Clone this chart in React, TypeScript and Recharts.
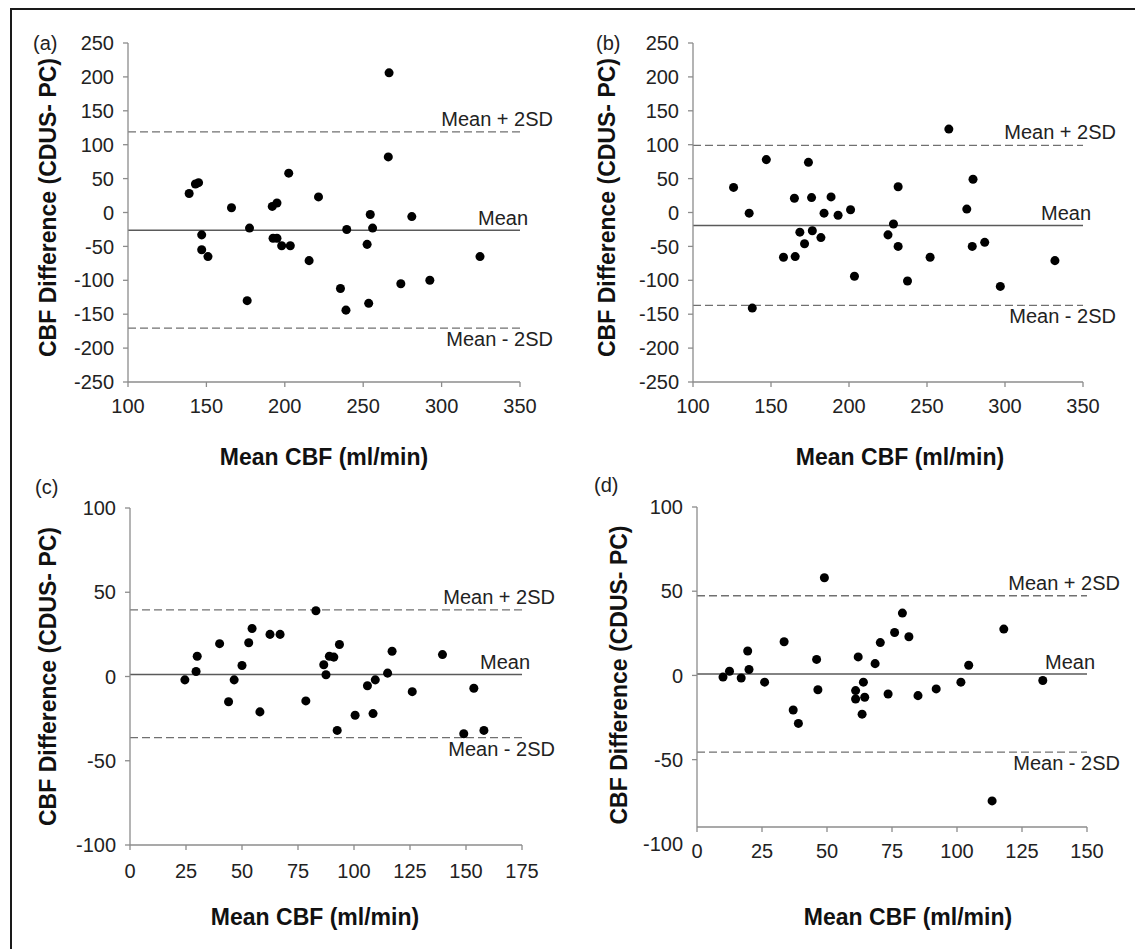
import React from "react";
import { ReferenceLine, Scatter, ScatterChart, XAxis, YAxis, ZAxis } from "recharts";

// (a) mean CBF vs difference
const aX = [139, 143, 145, 147, 147, 151, 166, 176, 177.5, 192, 195, 192.5, 195, 198, 203.5, 202.5, 215.5, 221.5, 235.5, 239, 239.5, 252.5, 253.5, 254.5, 256, 266.5, 266, 274, 281, 292.5, 324.5];
const aY = [28, 42, 44, -33, -55, -65, 7, -130, -23, 9, 14, -38, -38, -49, -49, 58, -71, 23, -112, -144, -25, -47, -134, -3, -23, 206, 82, -105, -6, -100, -65];
const aLines = [-26, 119, -170.5]; // mean, +2SD, -2SD

// (b)
const bX = [126, 136, 138, 147, 158, 165, 165.5, 168.5, 171.5, 174, 176, 176.5, 182, 184, 188.5, 193, 201, 203.5, 225, 228.5, 231.5, 231.5, 237.5, 252, 264, 275.5, 279.5, 279, 287, 297, 332];
const bY = [37, -1, -141, 78, -66, 21, -65, -29, -46, 74, 22, -27, -37, -1, 23, -4, 4, -94, -33, -17, 38, -50, -101, -66, 123, 5, 49, -50, -44, -109, -71];
const bLines = [-19, 99, -137];

// (c)
const cX = [24.5, 29.5, 30, 40, 44, 46.5, 50, 53, 54.5, 58, 62.5, 67, 78.5, 83, 86.5, 87.5, 89, 91, 93.5, 92.5, 100.5, 106, 108.5, 109.5, 115, 117, 126, 139.5, 149, 153.5, 158];
const cY = [-2, 3, 12, 19.5, -15, -2, 6.5, 20, 28.5, -21, 25, 25, -14.5, 39, 7, 1, 12, 11.5, 19, -32, -23, -5.5, -22, -2, 2, 15, -9, 13, -34, -7, -32];
const cLines = [1.2, 39.5, -36.3];

// (d)
const dX = [10, 12.5, 17, 19.5, 20, 26, 33.5, 37, 39, 46, 46.5, 49, 61, 61, 62, 64, 64.5, 63.5, 68.5, 70.5, 73.5, 76, 79, 81.5, 85, 92, 101.5, 104.5, 113.5, 118, 133];
const dY = [-1, 2.5, -1.5, 14.5, 3.5, -4, 20, -20.5, -28.5, 9.5, -8.5, 58, -9, -14, 11, -4, -13, -23, 7, 19.5, -11, 25.5, 37, 23, -12, -8, -4, 6, -74.5, 27.5, -3];
const dLines = [0.8, 47.3, -45.5];

const bigYTicks = [-250, -200, -150, -100, -50, 0, 50, 100, 150, 200, 250];
const smallYTicks = [-100, -50, 0, 50, 100];
const abXTicks = [100, 150, 200, 250, 300, 350];
const cXTicks = [0, 25, 50, 75, 100, 125, 150, 175];
const dXTicks = [0, 25, 50, 75, 100, 125, 150];

const lineNames = ["Mean", "Mean + 2SD", "Mean - 2SD"];

const FONT = "'Liberation Sans', Arial, Helvetica, sans-serif";
const AXIS = "#8c8c8c";
const TEXT = "#222";

const toPoints = (xs: number[], ys: number[]) => xs.map((x, i) => ({ x, y: ys[i] }));

const xTitle = (gap: number, dx: number) => (props: any) => {
  const vb = props.viewBox;
  return (
    <text x={vb.x + vb.width / 2 + dx} y={vb.y + gap} textAnchor="middle" dominantBaseline="central" fontSize={23} fontWeight={700} fontFamily={FONT} fill="#111">
      Mean CBF (ml/min)
    </text>
  );
};

const yTitle = (gap: number, dy: number) => (props: any) => {
  const vb = props.viewBox;
  const cx = vb.x + vb.width - gap;
  const cy = vb.y + vb.height / 2 + dy;
  return (
    <text x={cx} y={cy} transform={`rotate(-90 ${cx} ${cy})`} textAnchor="middle" dominantBaseline="central" fontSize={23} fontWeight={700} fontFamily={FONT} fill="#111">
      CBF Difference (CDUS- PC)
    </text>
  );
};

// y ticks drawn by hand so that a tick mark can be left off (panel d)
const yTick = (skip: number | null) => (props: any) => {
  const { x, y, payload } = props;
  return (
    <g>
      {payload.value !== skip && <line x1={x + 9} x2={x + 14} y1={y} y2={y} stroke={AXIS} strokeWidth={1.3} />}
      <text x={x} y={y} dy="0.355em" textAnchor="end" fontSize={20} fontFamily={FONT} fill={TEXT}>
        {payload.value}
      </text>
    </g>
  );
};

const lineLabel = (i: number) => (props: any) => {
  const vb = props.viewBox;
  const right = vb.x + vb.width;
  const x = i === 0 ? right + 8 : right + 33;
  const y = i === 0 ? vb.y - 5 : i === 1 ? vb.y - 6 : vb.y + 18;
  return (
    <text x={x} y={y} textAnchor="end" fontSize={20} fontFamily={FONT} fill={TEXT}>
      {lineNames[i]}
    </text>
  );
};

type PanelProps = {
  letter: string;
  letterX: number;
  letterY: number;
  left: number;
  top: number;
  width: number;
  height: number;
  plot: { left: number; top: number; right: number; bottom: number };
  xDomain: number[];
  xTicks: number[];
  yDomain: number[];
  yTicks: number[];
  xs: number[];
  ys: number[];
  lines: number[];
  xTickMargin: number;
  xTitleGap: number;
  xTitleDx: number;
  yTitleGap: number;
  yTitleDy: number;
  skipYTick?: number | null;
};

const Panel = (p: PanelProps) => {
  const margin = {
    top: p.plot.top - p.top,
    left: p.plot.left - p.left - 120,
    right: p.left + p.width - p.plot.right,
    bottom: p.top + p.height - p.plot.bottom - 30,
  };
  return (
    <div style={{ position: "absolute", left: p.left, top: p.top, width: p.width, height: p.height }}>
      <span style={{ position: "absolute", left: p.letterX - p.left, top: p.letterY - p.top - 12, fontFamily: FONT, fontSize: 20, lineHeight: "24px", color: TEXT }}>
        {p.letter}
      </span>
      <ScatterChart width={p.width} height={p.height} margin={margin}>
        <XAxis
          type="number"
          dataKey="x"
          domain={p.xDomain}
          ticks={p.xTicks}
          interval={0}
          allowDataOverflow
          height={30}
          axisLine={{ stroke: AXIS, strokeWidth: 1.3 }}
          tickLine={{ stroke: AXIS, strokeWidth: 1.3 }}
          tickSize={5}
          tickMargin={p.xTickMargin}
          tick={{ fill: TEXT, fontSize: 20, fontFamily: FONT }}
          label={{ content: xTitle(p.xTitleGap, p.xTitleDx) }}
        />
        <YAxis
          type="number"
          dataKey="y"
          domain={p.yDomain}
          ticks={p.yTicks}
          interval={0}
          allowDataOverflow
          width={120}
          axisLine={{ stroke: AXIS, strokeWidth: 1.3 }}
          tickLine={false}
          tickSize={5}
          tickMargin={9}
          tick={yTick(p.skipYTick ?? null)}
          label={{ content: yTitle(p.yTitleGap, p.yTitleDy) }}
        />
        <ZAxis range={[74, 74]} />
        <ReferenceLine y={p.lines[0]} stroke="#5a5a5a" strokeWidth={1.5} label={lineLabel(0)} />
        <ReferenceLine y={p.lines[1]} stroke="#707070" strokeWidth={1.3} strokeDasharray="8 4" label={lineLabel(1)} />
        <ReferenceLine y={p.lines[2]} stroke="#707070" strokeWidth={1.3} strokeDasharray="8 4" label={lineLabel(2)} />
        <Scatter data={toPoints(p.xs, p.ys)} fill="#000" isAnimationActive={false} />
      </ScatterChart>
    </div>
  );
};

const App = () => {
  return (
    <div style={{ position: "absolute", left: 0, top: 0, width: 1135, height: 949, background: "#fff", overflow: "hidden" }}>
      <div style={{ position: "absolute", left: 10, top: 8, right: 0, bottom: 0, borderTop: "2px solid #1a1a1a", borderLeft: "2px solid #1a1a1a" }} />
      <Panel
        letter="(a)" letterX={33} letterY={43}
        left={0} top={0} width={567} height={470}
        plot={{ left: 128, top: 43, right: 520, bottom: 382 }}
        xDomain={[100, 350]} xTicks={abXTicks} yDomain={[-250, 250]} yTicks={bigYTicks}
        xs={aX} ys={aY} lines={aLines}
        xTickMargin={12} xTitleGap={75} xTitleDx={0} yTitleGap={80} yTitleDy={-5}
      />
      <Panel
        letter="(b)" letterX={596} letterY={43}
        left={567} top={0} width={568} height={470}
        plot={{ left: 693, top: 43, right: 1083, bottom: 382 }}
        xDomain={[100, 350]} xTicks={abXTicks} yDomain={[-250, 250]} yTicks={bigYTicks}
        xs={bX} ys={bY} lines={bLines}
        xTickMargin={12} xTitleGap={75} xTitleDx={12} yTitleGap={86} yTitleDy={-5}
      />
      <Panel
        letter="(c)" letterX={35} letterY={487}
        left={0} top={470} width={567} height={479}
        plot={{ left: 130, top: 508, right: 522, bottom: 845 }}
        xDomain={[0, 175]} xTicks={cXTicks} yDomain={[-100, 100]} yTicks={smallYTicks}
        xs={cX} ys={cY} lines={cLines}
        xTickMargin={14} xTitleGap={72} xTitleDx={-11} yTitleGap={82} yTitleDy={0}
      />
      <Panel
        letter="(d)" letterX={594} letterY={485}
        left={567} top={470} width={568} height={479}
        plot={{ left: 697, top: 507, right: 1087, bottom: 827 }}
        xDomain={[0, 150]} xTicks={dXTicks} yDomain={[-90, 100]} yTicks={smallYTicks}
        xs={dX} ys={dY} lines={dLines}
        xTickMargin={12} xTitleGap={90} xTitleDx={16} yTitleGap={78} yTitleDy={8}
        skipYTick={-100}
      />
    </div>
  );
};

export default App;
